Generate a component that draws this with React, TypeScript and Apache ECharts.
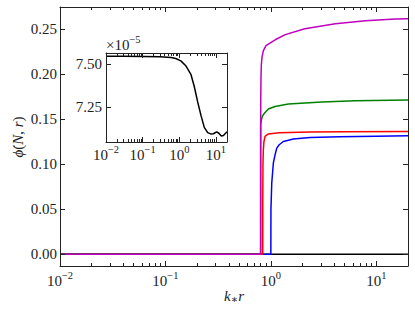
import React, { useEffect, useRef } from "react";
import * as echarts from "echarts";

// ---------------- data ----------------
const magentaX = [0.01, 0.8, 0.8005, 0.802, 0.806, 0.812, 0.825, 0.85, 0.9, 0.98, 1.1, 1.37, 2.1, 4.1, 7.9, 15.2, 20];
const magentaY = [0, 0, 0.12, 0.17, 0.195, 0.21, 0.219, 0.226, 0.2315, 0.2344, 0.238, 0.2437, 0.2503, 0.2559, 0.2592, 0.2611, 0.2614];

const greenX = [0.01, 0.8, 0.8005, 0.81, 0.83, 0.849, 0.9, 0.947, 1.096, 1.467, 3.05, 6.3, 20];
const greenY = [0, 0, 0.1437, 0.148, 0.153, 0.155, 0.1585, 0.1611, 0.164, 0.1667, 0.1689, 0.1703, 0.1711];

const redX = [0.01, 0.838, 0.8385, 0.842, 0.849, 0.86, 0.881, 0.947, 1.2, 2.36, 5.0, 20];
const redY = [0, 0, 0.06, 0.1, 0.116, 0.125, 0.1307, 0.1335, 0.1348, 0.1356, 0.136, 0.1363];

const blueX = [0.01, 1.0, 1.002, 1.02, 1.056, 1.1, 1.138, 1.2, 1.315, 1.636, 2.36, 4.5, 10, 20];
const blueY = [0, 0, 0.05, 0.079, 0.101, 0.111, 0.1178, 0.1215, 0.1251, 0.1278, 0.1296, 0.1305, 0.131, 0.1314];

// black curve, in units of 1e-5
const blackX = [0.01, 0.03, 0.1, 0.3, 0.6, 0.8, 1.1, 1.5, 2.07, 2.55, 3.16, 3.9, 4.8, 5.95, 7.2, 8.5, 10.5, 12, 14, 16, 18, 20];
const blackY = [7.545, 7.545, 7.544, 7.542, 7.538, 7.532, 7.518, 7.49, 7.44, 7.37, 7.28, 7.2, 7.13, 7.1, 7.092, 7.093, 7.104, 7.096, 7.08, 7.083, 7.095, 7.105];
const blackScale = 1e-5;

const mainYTicks = [0, 0.05, 0.1, 0.15, 0.2, 0.25];
const insetYTicks = [7.25, 7.5];
const logMajor = [0.01, 0.1, 1, 10];
const logMinor = [
  0.02, 0.03, 0.04, 0.05, 0.06, 0.07, 0.08, 0.09,
  0.2, 0.3, 0.4, 0.5, 0.6, 0.7, 0.8, 0.9,
  2, 3, 4, 5, 6, 7, 8, 9, 20,
];
const xTitle = "{i|k}{s|∗}{i|r}";
const yTitle = "{i|ϕ\u0307}{n|(}{i|N}{n|, }{i|r}{n|)}";
const insetMultiplier = "{b|×10}{s|−5}";

// ---------------- style ----------------
const FONT = "'Liberation Serif', 'DejaVu Serif', serif";
const TXT = "#222";
const AX = "#222";

const supRich = {
  b: { fontFamily: FONT, fontSize: 15, color: TXT, verticalAlign: "middle" },
  s: { fontFamily: FONT, fontSize: 10.5, color: TXT, verticalAlign: "top", padding: [0, 0, 11, 0] },
};

const expLabel = (v: number) => {
  const e = Math.round(Math.log10(v));
  return `{b|10}{s|${e < 0 ? "\u2212" + -e : e}}`;
};

const zip = (xs: number[], ys: number[], k = 1) => xs.map((x, i) => [x, ys[i] * k]);

function logAxes(gridIndex: number, xmin: number, xmax: number, labelMargin: number) {
  const base = { type: "log", logBase: 10, min: xmin, max: xmax, gridIndex, splitLine: { show: false }, z: 10 };
  const lineOn = { show: true, onZero: false, lineStyle: { color: AX, width: 1 } };
  return [
    {
      ...base, position: "bottom",
      axisLine: lineOn,
      axisTick: { show: true, inside: true, length: 5, customValues: logMajor, lineStyle: { color: AX } },
      axisLabel: { show: true, customValues: logMajor, margin: labelMargin, formatter: expLabel, rich: supRich },
    },
    {
      ...base, position: "top",
      axisLine: lineOn,
      axisTick: { show: true, inside: true, length: 5, customValues: logMajor, lineStyle: { color: AX } },
      axisLabel: { show: false },
    },
    {
      ...base, position: "bottom",
      axisLine: { show: false, onZero: false },
      axisTick: { show: true, inside: true, length: 3, customValues: logMinor, lineStyle: { color: AX } },
      axisLabel: { show: false },
    },
    {
      ...base, position: "top",
      axisLine: { show: false, onZero: false },
      axisTick: { show: true, inside: true, length: 3, customValues: logMinor, lineStyle: { color: AX } },
      axisLabel: { show: false },
    },
  ];
}

function valueAxes(gridIndex: number, ymin: number, ymax: number, ticks: number[], labelMargin: number) {
  const base = { type: "value", min: ymin, max: ymax, gridIndex, splitLine: { show: false }, z: 10 };
  const lineOn = { show: true, onZero: false, lineStyle: { color: AX, width: 1 } };
  return [
    {
      ...base, position: "left",
      axisLine: lineOn,
      axisTick: { show: true, inside: true, length: 5, customValues: ticks, lineStyle: { color: AX } },
      axisLabel: {
        show: true, customValues: ticks, margin: labelMargin,
        formatter: (v: number) => v.toFixed(2),
        fontFamily: FONT, fontSize: 15, color: TXT,
      },
    },
    {
      ...base, position: "right",
      axisLine: lineOn,
      axisTick: { show: true, inside: true, length: 5, customValues: ticks, lineStyle: { color: AX } },
      axisLabel: { show: false },
    },
  ];
}

export default function App() {
  const ref = useRef<HTMLDivElement>(null);
  useEffect(() => {
    document.body.style.margin = "0";
    if (!ref.current) return;
    const chart = echarts.init(ref.current, undefined, { renderer: "svg" });
    const line = (name: string, data: number[][], color: string, xi: number, yi: number, z: number) => ({
      type: "line", name, data, xAxisIndex: xi, yAxisIndex: yi, showSymbol: false, symbol: "none",
      lineStyle: { color, width: 1.5 }, z, silent: true,
    });
    chart.setOption({
      animation: false,
      textStyle: { fontFamily: FONT },
      grid: [
        { left: 60, top: 7, width: 348, height: 259 },
        { left: 106, top: 53, width: 121, height: 89 },
      ],
      xAxis: [...logAxes(0, 0.01, 20, 4), ...logAxes(1, 0.01, 20, 2)],
      yAxis: [...valueAxes(0, -0.0131, 0.2744, mainYTicks, 3), ...valueAxes(1, 7.045, 7.564, insetYTicks, 4)],
      series: [
        line("black", zip(blackX, blackY, blackScale), "#000000", 0, 0, 2),
        line("blue", zip(blueX, blueY), "#0000ff", 0, 0, 3),
        line("red", zip(redX, redY), "#ff0000", 0, 0, 4),
        line("green", zip(greenX, greenY), "#008000", 0, 0, 5),
        line("magenta", zip(magentaX, magentaY), "#bf00bf", 0, 0, 6),
        line("inset", zip(blackX, blackY), "#000000", 4, 2, 7),
      ],
      graphic: [
        {
          type: "text", x: 234, y: 296,
          style: {
            text: xTitle, align: "center", verticalAlign: "middle",
            rich: {
              i: { fontFamily: FONT, fontSize: 15, fontStyle: "italic", fill: TXT },
              s: { fontFamily: FONT, fontSize: 11, fill: TXT, verticalAlign: "bottom", padding: [6, 0, 0, 0] },
            },
          },
        },
        {
          type: "text", x: 18, y: 137, rotation: Math.PI / 2,
          style: {
            text: yTitle, align: "center", verticalAlign: "middle",
            rich: {
              i: { fontFamily: FONT, fontSize: 15, fontStyle: "italic", fill: TXT },
              n: { fontFamily: FONT, fontSize: 15, fill: TXT },
            },
          },
        },
        {
          type: "text", x: 106, y: 45,
          style: {
            text: insetMultiplier, align: "left", verticalAlign: "middle",
            rich: {
              b: { fontFamily: FONT, fontSize: 15, fill: TXT, verticalAlign: "middle" },
              s: { fontFamily: FONT, fontSize: 10.5, fill: TXT, verticalAlign: "top", padding: [0, 0, 11, 0] },
            },
          },
        },
      ],
    });
    return () => chart.dispose();
  }, []);
  return <div ref={ref} style={{ width: 415, height: 310 }} />;
}
